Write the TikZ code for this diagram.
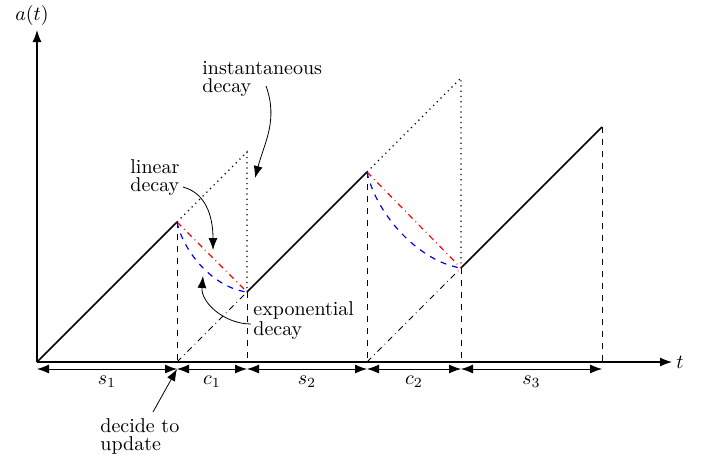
\documentclass[tikz,border=0pt]{standalone}
\usetikzlibrary{arrows.meta}
\tikzset{
  axis/.style={-{Latex[length=6pt,width=4.5pt]}, semithick},
  seg/.style={thick},
  guide/.style={dashed, thin},
  ghost/.style={dotted, semithick},
  ramp/.style={dash dot, thin},
  lindecay/.style={red, dash dot, semithick},
  expdecay/.style={blue, dashed, semithick},
  dim/.style={{Latex[length=6pt,width=4.5pt]}-{Latex[length=6pt,width=4.5pt]}, thin},
  note/.style={align=left, inner sep=0pt},
  pointer/.style={-{Latex[length=6pt,width=4.5pt]}, thin}
}

\begin{document}
\begin{tikzpicture}[x=0.5pt, y=0.5pt]
  \useasboundingbox (-37,-94) rectangle (665,362);
  % corners of the saw tooth
  \coordinate (o) at (0,0);
  \coordinate (a) at (140,140);
  \coordinate (pa) at (210,210);
  \coordinate (b) at (210,70);
  \coordinate (c) at (330,190);
  \coordinate (pc) at (424,284);
  \coordinate (d) at (424,94);
  \coordinate (e) at (565,235);
  % feet on the time axis
  \coordinate (a0) at (140,0);
  \coordinate (b0) at (210,0);
  \coordinate (c0) at (330,0);
  \coordinate (d0) at (424,0);
  \coordinate (e0) at (565,0);
  % axes
  \draw[axis] (o) -- (0,332);
  \draw[axis] (o) -- (635,0);
  \node (at) at (-5,347) {$a(t)$};
  \node[anchor=west, inner sep=1pt] (tl) at (637,0) {$t$};
  % growth
  \draw[seg] (o) -- (a);
  \draw[seg] (b) -- (c);
  \draw[seg] (d) -- (e);
  % no update
  \draw[ghost] (a) -- (pa) -- (b);
  \draw[ghost] (c) -- (pc) -- (d);
  % ramps from the axis
  \draw[ramp] (a0) -- (b);
  \draw[ramp] (c0) -- (d);
  % drops
  \draw[guide] (a) -- (a0);
  \draw[guide] (b) -- (b0);
  \draw[guide] (c) -- (c0);
  \draw[guide] (d) -- (d0);
  \draw[guide] (e) -- (e0);
  % decays
  \draw[lindecay] (a) -- (b);
  \draw[lindecay] (c) -- (d);
  \draw[expdecay] (a) .. controls (147,108) and (178,74) .. (b);
  \draw[expdecay] (c) .. controls (340,145) and (384,100) .. (d);
  % intervals
  \coordinate (m0) at (0,-7);
  \coordinate (m1) at (140,-7);
  \coordinate (m2) at (210,-7);
  \coordinate (m3) at (330,-7);
  \coordinate (m4) at (424,-7);
  \coordinate (m5) at (565,-7);
  \draw[dim] (m0) -- node[below] (s1) {$s_1$} (m1);
  \draw[dim] (m1) -- node[below] (c1) {$c_1$} (m2);
  \draw[dim] (m2) -- node[below] (s2) {$s_2$} (m3);
  \draw[dim] (m3) -- node[below] (c2) {$c_2$} (m4);
  \draw[dim] (m4) -- node[below] (s3) {$s_3$} (m5);
  % notes
  \node[note, anchor=north west] (inst) at (165,301) {instantaneous\\[-3pt]decay};
  \node[note, anchor=north west] (lin) at (93,203) {linear\\[-3pt]decay};
  \node[note, anchor=north west] (expo) at (216,61) {exponential\\[-2pt]decay};
  \node[note, anchor=north west] (upd) at (63,-56) {decide to\\[-3pt]update};
  \coordinate (inst-tail) at (229,276);
  \coordinate (inst-tip) at (218,184);
  \coordinate (lin-tail) at (146,175);
  \coordinate (lin-tip) at (176,112);
  \coordinate (expo-tail) at (214,38);
  \coordinate (expo-tip) at (166,86);
  \coordinate (upd-tail) at (116,-50);
  \draw[pointer] (inst-tail) to[out=-70, in=75] (inst-tip);
  \draw[pointer] (lin-tail) to[out=-15, in=90] (lin-tip);
  \draw[pointer] (expo-tail) to[out=180, in=-95] (expo-tip);
  \draw[pointer] (upd-tail) -- (m1);
\end{tikzpicture}
\end{document}
